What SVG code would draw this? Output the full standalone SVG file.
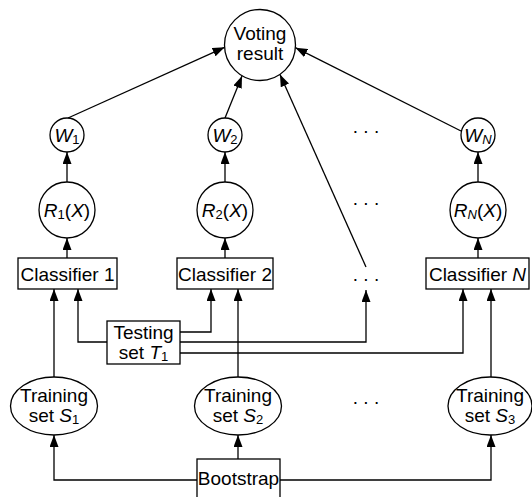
<svg xmlns="http://www.w3.org/2000/svg" width="532" height="497" viewBox="0 0 532 497">
<defs>
<marker id="ah" markerUnits="userSpaceOnUse" markerWidth="12" markerHeight="9" refX="12" refY="4.5" orient="auto">
<path d="M0,0 L12,4.5 L0,9 z" fill="#000"/>
</marker>
<style>
.n{fill:#fff;stroke:#000;stroke-width:1.3}
.t{font-family:"Liberation Sans",Arial,sans-serif;font-size:19px;fill:#000;text-anchor:middle}
.s{font-size:13px}
.i{font-style:italic}
.c{fill:none;stroke:#000;stroke-width:1.3;marker-end:url(#ah)}
</style>
</defs>
<rect width="532" height="497" fill="#fff"/>
<g id="connectors">
<line class="c" x1="68" y1="118" x2="224.6" y2="47.3"/>
<line class="c" x1="225" y1="118" x2="242" y2="76"/>
<line class="c" x1="366" y1="267" x2="280" y2="74.5"/>
<line class="c" x1="461" y1="131" x2="295.4" y2="47.7"/>
<line class="c" x1="67" y1="182" x2="67" y2="152"/>
<line class="c" x1="225" y1="182" x2="225" y2="152"/>
<line class="c" x1="478" y1="182" x2="478" y2="152"/>
<line class="c" x1="67" y1="258" x2="67" y2="238"/>
<line class="c" x1="225" y1="258" x2="225" y2="238"/>
<line class="c" x1="478" y1="258" x2="478" y2="238"/>
<line class="c" x1="54" y1="377" x2="54" y2="289"/>
<polyline class="c" points="107,342 78,342 78,289"/>
<polyline class="c" points="180,332 211,332 211,289"/>
<line class="c" x1="238" y1="377" x2="238" y2="289"/>
<polyline class="c" points="180,342 366,342 366,290"/>
<polyline class="c" points="180,353 463,353 463,289"/>
<line class="c" x1="491" y1="377" x2="491" y2="289"/>
<polyline class="c" points="197,480 54,480 54,435"/>
<line class="c" x1="238" y1="459" x2="238" y2="435"/>
<polyline class="c" points="280,480 491,480 491,435"/>
</g>
<g id="voting">
<circle class="n" cx="260" cy="45" r="35.5"/>
<text class="t" x="260" y="39.5">Voting</text>
<text class="t" x="260" y="60">result</text>
</g>
<g id="w1"><circle class="n" cx="67" cy="135" r="17"/><text class="t" x="67" y="142"><tspan class="i">W</tspan><tspan class="s" dy="2">1</tspan></text></g>
<g id="w2"><circle class="n" cx="225" cy="135" r="17"/><text class="t" x="225" y="142"><tspan class="i">W</tspan><tspan class="s" dy="2">2</tspan></text></g>
<g id="wn"><circle class="n" cx="478" cy="135" r="17"/><text class="t" x="478" y="142"><tspan class="i">W</tspan><tspan class="s i" dy="2">N</tspan></text></g>
<g id="r1"><circle class="n" cx="67" cy="210" r="28"/><text class="t" x="67" y="217"><tspan class="i">R</tspan><tspan class="s" dy="2">1</tspan><tspan dy="-2">(</tspan><tspan class="i">X</tspan>)</text></g>
<g id="r2"><circle class="n" cx="225" cy="210" r="28"/><text class="t" x="225" y="217"><tspan class="i">R</tspan><tspan class="s" dy="2">2</tspan><tspan dy="-2">(</tspan><tspan class="i">X</tspan>)</text></g>
<g id="rn"><circle class="n" cx="478" cy="210" r="28"/><text class="t" x="478" y="217"><tspan class="i">R</tspan><tspan class="s i" dy="2">N</tspan><tspan dy="-2">(</tspan><tspan class="i">X</tspan>)</text></g>
<g id="c1"><rect class="n" x="18" y="258" width="99" height="31"/><text class="t" x="67.5" y="280.5">Classifier 1</text></g>
<g id="c2"><rect class="n" x="177" y="258" width="96" height="31"/><text class="t" x="225" y="280.5">Classifier 2</text></g>
<g id="cn"><rect class="n" x="426" y="258" width="103" height="31"/><text class="t" x="477.5" y="280.5">Classifier <tspan class="i">N</tspan></text></g>
<g id="testing"><rect class="n" x="107" y="321" width="73" height="43"/><text class="t" x="143.5" y="339">Testing</text><text class="t" x="143.5" y="359">set <tspan class="i">T</tspan><tspan class="s" dy="2">1</tspan></text></g>
<g id="s1"><ellipse class="n" cx="54" cy="406" rx="43.5" ry="29"/><text class="t" x="54" y="401.5">Training</text><text class="t" x="54" y="421.5">set <tspan class="i">S</tspan><tspan class="s" dy="2">1</tspan></text></g>
<g id="s2"><ellipse class="n" cx="238" cy="406" rx="43.5" ry="29"/><text class="t" x="238" y="401.5">Training</text><text class="t" x="238" y="421.5">set <tspan class="i">S</tspan><tspan class="s" dy="2">2</tspan></text></g>
<g id="s3"><ellipse class="n" cx="490" cy="406" rx="42" ry="29"/><text class="t" x="490" y="401.5">Training</text><text class="t" x="490" y="421.5">set <tspan class="i">S</tspan><tspan class="s" dy="2">3</tspan></text></g>
<g id="bootstrap"><rect class="n" x="197" y="459" width="83" height="42"/><text class="t" x="238.5" y="484.5">Bootstrap</text></g>
<g id="dots">
<text class="t" x="366" y="133">. . .</text>
<text class="t" x="366" y="205">. . .</text>
<text class="t" x="366" y="281">. . .</text>
<text class="t" x="366" y="404">. . .</text>
</g>
</svg>
